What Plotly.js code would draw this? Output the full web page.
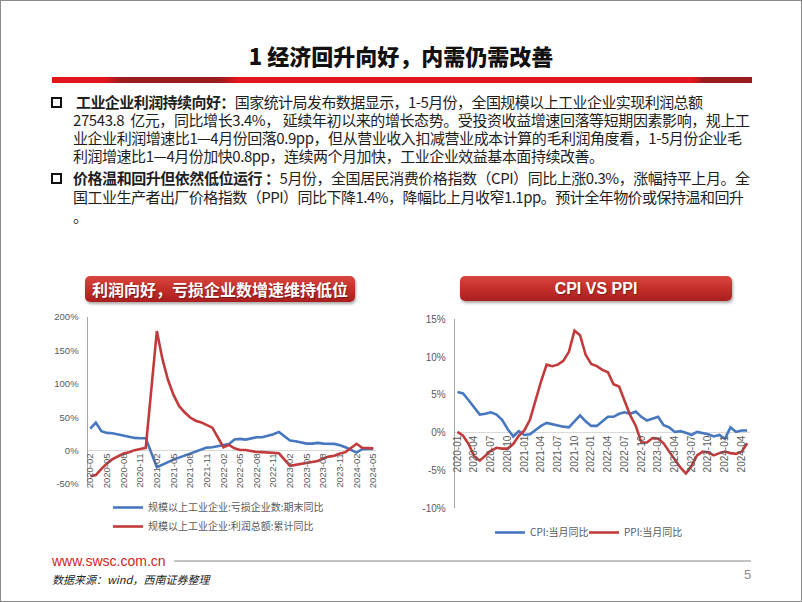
<!DOCTYPE html>
<html>
<head>
<meta charset="utf-8">
<script src="https://cdn.plot.ly/plotly-3.0.1.min.js"></script>
<style>
html,body{margin:0;padding:0;background:#fff;}
#page{position:relative;width:802px;height:602px;overflow:hidden;background:#fff;font-family:"Noto Sans CJK SC","Noto Sans",sans-serif;}
#frame{position:absolute;left:0;top:0;width:802px;height:602px;box-sizing:border-box;border:1px solid #8a8a8a;z-index:6;pointer-events:none;}
#chart{position:absolute;left:0;top:0;width:802px;height:602px;z-index:1;}
.ov{position:absolute;z-index:3;pointer-events:none;white-space:nowrap;}
#title{left:0;width:802px;top:41px;height:28px;line-height:28px;text-align:center;font-size:22px;font-weight:900;color:#111;font-family:"Noto Sans CJK SC Black","Noto Sans CJK SC",sans-serif;}
#bar{left:52px;top:77px;width:700px;height:6px;background:linear-gradient(to right,#E3161D 0%,#E3161D 7.5%,#9C1B20 10%,#9C1B20 24%,#E3161D 26.5%,#E3161D 91.5%,#9C1B20 93%,#9C1B20 100%);}
.line{font-size:15px;line-height:18px;height:18px;color:#1e1e1e;}
.line b{font-weight:700;}
.box{left:51px;width:7px;height:7px;border:2px solid #111;}
.banner{height:26px;border-radius:5px;background:linear-gradient(to bottom,#D9473F 0%,#C7302C 45%,#A91F1F 100%);box-shadow:1px 2px 3px rgba(0,0,0,0.35);color:#fff;font-weight:700;text-align:center;line-height:26px;text-shadow:1px 1px 1px rgba(0,0,0,0.35);}
#url{left:52px;top:552px;height:18px;line-height:18px;font-family:"Liberation Sans",Arial,sans-serif;font-size:14px;color:#CC1F24;}
#rule{left:174px;top:560px;width:577px;height:2px;background:#C4C4C4;}
#src{left:52px;top:571px;height:16px;line-height:16px;font-size:11px;font-style:italic;color:#222;}
#pg{left:744px;top:567px;height:16px;line-height:16px;font-family:"Liberation Sans",Arial,sans-serif;font-size:13px;color:#8a8a8a;}
</style>
</head>
<body>
<div id="page">
  <div id="chart"></div>
  <div id="title" class="ov">1 经济回升向好，内需仍需改善</div>
  <div id="bar" class="ov"></div>

  <div class="ov box" style="top:97px;"></div>
  <div class="ov line fit" data-l="76" data-r="703" style="top:93px;"><b>工业企业利润持续向好：</b>国家统计局发布数据显示，1-5月份，全国规模以上工业企业实现利润总额</div>
  <div class="ov line fit" data-l="73" data-r="750" style="top:111px;">27543.8&nbsp; 亿元，同比增长3.4%， 延续年初以来的增长态势。受投资收益增速回落等短期因素影响，规上工</div>
  <div class="ov line fit" data-l="73" data-r="742" style="top:129px;">业企业利润增速比1—4月份回落0.9pp，但从营业收入扣减营业成本计算的毛利润角度看，1-5月份企业毛</div>
  <div class="ov line fit" data-l="73" data-r="604" style="top:147px;">利润增速比1—4月份加快0.8pp，连续两个月加快，工业企业效益基本面持续改善。</div>

  <div class="ov box" style="top:173px;"></div>
  <div class="ov line fit" data-l="73" data-r="750" style="top:169px;"><b>价格温和回升但依然低位运行&nbsp;：</b>5月份，全国居民消费价格指数（CPI）同比上涨0.3%，涨幅持平上月。全</div>
  <div class="ov line fit" data-l="73" data-r="744" style="top:188px;">国工业生产者出厂价格指数（PPI）同比下降1.4%，降幅比上月收窄1.1pp。预计全年物价或保持温和回升</div>
  <div class="ov line" style="top:207px;left:73px;">。</div>

  <div class="ov banner" style="left:85px;top:276px;width:270px;font-size:16px;">利润向好，亏损企业数增速维持低位</div>
  <div class="ov banner" style="left:460px;top:276px;width:272px;height:25px;line-height:25px;font-size:16px;font-family:'Liberation Sans',Arial,sans-serif;">CPI VS PPI</div>

  <div id="url" class="ov">www.swsc.com.cn</div>
  <div id="rule" class="ov"></div>
  <div id="src" class="ov">数据来源：wind，西南证券整理</div>
  <div id="pg" class="ov">5</div>
  <div id="frame"></div>
</div>
<script>
// ---------- Left chart data (规模以上工业企业) ----------
const leftCats = [
 '2020-02','2020-03','2020-04','2020-05','2020-06','2020-07','2020-08','2020-09','2020-10','2020-11','2020-12',
 '2021-01','2021-02','2021-03','2021-04','2021-05','2021-06','2021-07','2021-08','2021-09','2021-10','2021-11','2021-12',
 '2022-01','2022-02','2022-03','2022-04','2022-05','2022-06','2022-07','2022-08','2022-09','2022-10','2022-11','2022-12',
 '2023-01','2023-02','2023-03','2023-04','2023-05','2023-06','2023-07','2023-08','2023-09','2023-10','2023-11','2023-12',
 '2024-01','2024-02','2024-03','2024-04','2024-05'];
const lossCountYoY = [
 33, 42, 29, 26.5, 26, 24, 22.5, 20.5, 19, 18.5, 18.5,
 null, -25, -21, -17.5, -13.5, -10.5, -7.5, -4, -0.5, 2.5, 4.5, 5,
 null, 8.5, 10, 16.5, 17.5, 16.5, 18.5, 20, 20, 22, 24.5, 28,
 null, 15, 14, 12, 10.5, 10.5, 11.5, 10.5, 10.5, 10, 8, 5,
 null, -3, 2, 2.5, 2.5];
const profitCumYoY = [
 -38.3, -36.7, -27.4, -19.3, -12.8, -8.1, -4.4, -2.4, 0.7, 2.4, 4.1,
 null, 178.9, 137.3, 106.0, 83.4, 66.9, 57.3, 49.5, 44.7, 42.2, 38.0, 34.3,
 null, 5.0, 8.5, 3.5, 1.0, 1.0, -1.1, -2.1, -2.3, -3.0, -3.6, -4.0,
 null, -22.9, -21.4, -20.6, -18.8, -16.8, -15.5, -11.7, -9.0, -7.8, -4.4, -2.3,
 null, 10.2, 4.3, 4.3, 3.4];
const leftTicks = ['2020-02','2020-05','2020-08','2020-11','2021-02','2021-05','2021-08','2021-11','2022-02',
 '2022-05','2022-08','2022-11','2023-02','2023-05','2023-08','2023-11','2024-02','2024-05'];
const leftYVals = [-50, 0, 50, 100, 150, 200];
const leftYText = ['-50%', '0%', '50%', '100%', '150%', '200%'];
const leftNames = ['规模以上工业企业:亏损企业数:期末同比', '规模以上工业企业:利润总额:累计同比'];

// ---------- Right chart data (CPI vs PPI) ----------
const rightCats = [
 '2020-01','2020-02','2020-03','2020-04','2020-05','2020-06','2020-07','2020-08','2020-09','2020-10','2020-11','2020-12',
 '2021-01','2021-02','2021-03','2021-04','2021-05','2021-06','2021-07','2021-08','2021-09','2021-10','2021-11','2021-12',
 '2022-01','2022-02','2022-03','2022-04','2022-05','2022-06','2022-07','2022-08','2022-09','2022-10','2022-11','2022-12',
 '2023-01','2023-02','2023-03','2023-04','2023-05','2023-06','2023-07','2023-08','2023-09','2023-10','2023-11','2023-12',
 '2024-01','2024-02','2024-03','2024-04','2024-05'];
const cpiYoY = [
 5.4, 5.2, 4.3, 3.3, 2.4, 2.5, 2.7, 2.4, 1.7, 0.5, -0.5, 0.2,
 -0.3, -0.2, 0.4, 0.9, 1.3, 1.1, 1.0, 0.8, 0.7, 1.5, 2.3, 1.5,
 0.9, 0.9, 1.5, 2.1, 2.1, 2.5, 2.7, 2.5, 2.8, 2.1, 1.6, 1.8,
 2.1, 1.0, 0.7, 0.1, 0.2, 0.0, -0.3, 0.1, 0.0, -0.2, -0.5, -0.3,
 -0.8, 0.7, 0.1, 0.3, 0.3];
const ppiYoY = [
 0.1, -0.4, -1.5, -3.1, -3.7, -3.0, -2.4, -2.0, -2.1, -2.1, -1.5, -0.4,
 0.3, 1.7, 4.4, 6.8, 9.0, 8.8, 9.0, 9.5, 10.7, 13.5, 12.9, 10.3,
 9.1, 8.8, 8.3, 8.0, 6.4, 6.1, 4.2, 2.3, 0.9, -1.3, -1.3, -0.7,
 -0.8, -1.4, -2.5, -3.6, -4.6, -5.4, -4.4, -3.0, -2.5, -2.6, -3.0, -2.7,
 -2.5, -2.7, -2.8, -2.5, -1.4];
const rightTicks = ['2020-01','2020-04','2020-07','2020-10','2021-01','2021-04','2021-07','2021-10','2022-01',
 '2022-04','2022-07','2022-10','2023-01','2023-04','2023-07','2023-10','2024-01','2024-04'];
const rightYVals = [-10, -5, 0, 5, 10, 15];
const rightYText = ['-10%', '-5%', '0%', '5%', '10%', '15%'];
const rightNames = ['CPI:当月同比', 'PPI:当月同比'];

const BLUE = '#4677BF', RED = '#C23B3C';
const W = 802, H = 602;
const fx = v => v / W, fy = v => 1 - v / H;

const traces = [
  {x: leftCats, y: lossCountYoY, name: leftNames[0], type: 'scatter', mode: 'lines', connectgaps: true,
   line: {color: BLUE, width: 2.6}, xaxis: 'x', yaxis: 'y', legend: 'legend'},
  {x: leftCats, y: profitCumYoY, name: leftNames[1], type: 'scatter', mode: 'lines', connectgaps: true,
   line: {color: RED, width: 2.6}, xaxis: 'x', yaxis: 'y', legend: 'legend'},
  {x: rightCats, y: cpiYoY, name: rightNames[0], type: 'scatter', mode: 'lines',
   line: {color: BLUE, width: 2.6}, xaxis: 'x2', yaxis: 'y2', legend: 'legend2'},
  {x: rightCats, y: ppiYoY, name: rightNames[1], type: 'scatter', mode: 'lines',
   line: {color: RED, width: 2.6}, xaxis: 'x2', yaxis: 'y2', legend: 'legend3'}
];

const tickFont = {family: 'Liberation Sans, Arial, sans-serif', size: 9.5, color: '#595959'};
const legFont = {family: 'Noto Sans CJK SC, sans-serif', size: 10, color: '#595959'};

const layout = {
  width: W, height: H,
  margin: {l: 0, r: 0, t: 0, b: 0},
  paper_bgcolor: 'rgba(0,0,0,0)', plot_bgcolor: 'rgba(0,0,0,0)',
  showlegend: true,
  xaxis: {type: 'category', domain: [fx(87.5), fx(376)], range: [-0.5, leftCats.length - 0.5],
    anchor: 'free', position: fy(450.6), tickmode: 'array', tickvals: leftTicks, ticktext: leftTicks,
    tickangle: -90, showline: false, showgrid: false, zeroline: false, ticks: '', tickfont: tickFont, fixedrange: true},
  yaxis: {domain: [fy(484), fy(317)], range: [-50, 200], anchor: 'x', tickmode: 'array',
    tickvals: leftYVals, ticktext: leftYText, showline: true, linecolor: '#A6A6A6', linewidth: 1,
    showgrid: false, zeroline: true, zerolinecolor: '#D9D9D9', zerolinewidth: 1, ticks: '',
    ticklabelstandoff: 6, tickfont: tickFont, fixedrange: true},
  xaxis2: {type: 'category', domain: [fx(454.7), fx(750)], range: [-0.5, rightCats.length - 0.5],
    anchor: 'free', position: fy(432.7), tickmode: 'array', tickvals: rightTicks, ticktext: rightTicks,
    tickangle: -90, showline: false, showgrid: false, zeroline: false, ticks: '',
    tickfont: {family: 'Liberation Sans, Arial, sans-serif', size: 10, color: '#595959'}, fixedrange: true},
  yaxis2: {domain: [fy(508.3), fy(319.3)], range: [-10, 15], anchor: 'x2', tickmode: 'array',
    tickvals: rightYVals, ticktext: rightYText, showline: true, linecolor: '#A6A6A6', linewidth: 1,
    showgrid: false, zeroline: true, zerolinecolor: '#D9D9D9', zerolinewidth: 1, ticks: '',
    ticklabelstandoff: 6, tickfont: {family: 'Liberation Sans, Arial, sans-serif', size: 10, color: '#595959'}, fixedrange: true},
  legend: {orientation: 'v', x: fx(108), y: fy(493), xanchor: 'left', yanchor: 'top',
    font: legFont, bgcolor: 'rgba(0,0,0,0)', borderwidth: 0, tracegroupgap: 0, itemwidth: 30},
  legend2: {orientation: 'h', x: fx(490), y: fy(518), xanchor: 'left', yanchor: 'top',
    font: legFont, bgcolor: 'rgba(0,0,0,0)', borderwidth: 0},
  legend3: {orientation: 'h', x: fx(584), y: fy(518), xanchor: 'left', yanchor: 'top',
    font: legFont, bgcolor: 'rgba(0,0,0,0)', borderwidth: 0}
};

Plotly.newPlot('chart', traces, layout, {staticPlot: true, displayModeBar: false});

// fit text lines to their measured spans in the original slide
document.querySelectorAll('.fit').forEach(el => {
  const l = +el.dataset.l, r = +el.dataset.r;
  el.style.left = l + 'px';
  const w = el.getBoundingClientRect().width;
  const n = el.textContent.length;
  const ls = (r - l - w) / Math.max(1, n - 1);
  el.style.letterSpacing = ls.toFixed(3) + 'px';
});
</script>
</body>
</html>
